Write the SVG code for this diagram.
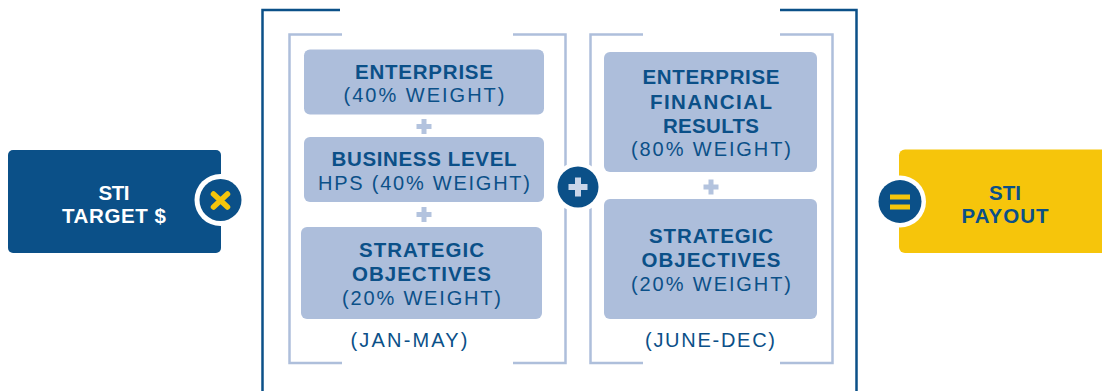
<svg xmlns="http://www.w3.org/2000/svg" width="1102" height="391" viewBox="0 0 1102 391">
  <style>
    .bold { font-family: "Liberation Sans", Arial, sans-serif; font-weight: bold; font-size: 20.5px; fill: #0b5088; text-anchor: middle; }
    .reg { font-family: "Liberation Sans", Arial, sans-serif; font-size: 20px; fill: #0b5088; text-anchor: middle; }
    .wht { fill: #ffffff; }
    .card { fill: #adbedb; }
    .outer { fill: none; stroke: #0b5088; stroke-width: 2.5; }
    .inner { fill: none; stroke: #aebfdb; stroke-width: 2.5; }
    .plus { fill: #b3c3de; }
  </style>
  <rect width="1102" height="391" fill="#ffffff"/>

  <!-- bracket frames -->
  <g id="connectors">
    <path class="outer" d="M340 10 H262.5 V391"/>
    <path class="outer" d="M780 10 H856.5 V391"/>
    <path class="inner" d="M342 34.5 H289.5 V363 H342"/>
    <path class="inner" d="M513 34.5 H565.5 V363 H513"/>
    <path class="inner" d="M643 34.5 H590.5 V363 H643"/>
    <path class="inner" d="M780 34.5 H832.5 V363 H780"/>
    <!-- small plus signs between cards -->
    <path class="plus" d="M421.5 119 h5 v5 h5 v5 h-5 v5 h-5 v-5 h-5 v-5 h5 z"/>
    <path class="plus" d="M421.5 207 h5 v5 h5 v5 h-5 v5 h-5 v-5 h-5 v-5 h5 z"/>
    <path class="plus" d="M708.5 179.5 h5 v5 h5 v5 h-5 v5 h-5 v-5 h-5 v-5 h5 z"/>
  </g>

  <g id="sti-target">
    <rect x="8" y="150" width="213" height="103" rx="5" fill="#0b5088"/>
    <text class="bold wht" x="114" y="199.5" textLength="31">STI</text>
    <text class="bold wht" x="114" y="222.5" textLength="104">TARGET $</text>
  </g>

  <g id="enterprise-h1">
    <rect class="card" x="304" y="49.5" width="240" height="65" rx="6"/>
    <text class="bold" x="424" y="79" textLength="138">ENTERPRISE</text>
    <text class="reg" x="424" y="102" textLength="161">(40% WEIGHT)</text>
  </g>

  <g id="business-level">
    <rect class="card" x="304" y="137" width="240" height="65" rx="6"/>
    <text class="bold" x="424" y="166" textLength="185">BUSINESS LEVEL</text>
    <text class="reg" x="424" y="190" textLength="212">HPS (40% WEIGHT)</text>
  </g>

  <g id="strategic-h1">
    <rect class="card" x="301" y="227" width="241" height="92" rx="6"/>
    <text class="bold" x="421.5" y="257" textLength="125">STRATEGIC</text>
    <text class="bold" x="421.5" y="281" textLength="139">OBJECTIVES</text>
    <text class="reg" x="421.5" y="304.5" textLength="159">(20% WEIGHT)</text>
  </g>

  <g id="label-jan-may">
    <text class="reg" x="409" y="346.5" textLength="117">(JAN-MAY)</text>
  </g>

  <g id="enterprise-h2">
    <rect class="card" x="604" y="52" width="213" height="120" rx="6"/>
    <text class="bold" x="711" y="84" textLength="137">ENTERPRISE</text>
    <text class="bold" x="711" y="108.5" textLength="122">FINANCIAL</text>
    <text class="bold" x="711" y="132.5" textLength="96">RESULTS</text>
    <text class="reg" x="711" y="156" textLength="160">(80% WEIGHT)</text>
  </g>

  <g id="strategic-h2">
    <rect class="card" x="604" y="199" width="213" height="120" rx="6"/>
    <text class="bold" x="711" y="243" textLength="124">STRATEGIC</text>
    <text class="bold" x="711" y="267" textLength="139">OBJECTIVES</text>
    <text class="reg" x="711" y="290.5" textLength="160">(20% WEIGHT)</text>
  </g>

  <g id="label-june-dec">
    <text class="reg" x="710" y="346.5" textLength="130">(JUNE-DEC)</text>
  </g>

  <g id="sti-payout">
    <path d="M1102 149.5 H905 a6 6 0 0 0 -6 6 V247 a6 6 0 0 0 6 6 H1102 z" fill="#f6c50b"/>
    <text class="bold" x="1005" y="199.5" textLength="32">STI</text>
    <text class="bold" x="1005" y="222.5" textLength="87">PAYOUT</text>
  </g>

  <!-- operator badges -->
  <g id="op-multiply">
    <circle cx="220.5" cy="200" r="26" fill="#ffffff"/>
    <circle cx="220.5" cy="200" r="21" fill="#0b5088"/>
    <path d="M213.5 194 L227.5 207 M227.5 194 L213.5 207" stroke="#f6c50b" stroke-width="5.5" stroke-linecap="round"/>
  </g>

  <g id="op-plus">
    <circle cx="578" cy="187" r="25" fill="#ffffff"/>
    <circle cx="578" cy="187" r="20.5" fill="#0b5088"/>
    <path d="M575 177.5 h6 v6.5 h6.5 v6 h-6.5 v6.5 h-6 v-6.5 h-6.5 v-6 h6.5 z" fill="#c9d5e9"/>
  </g>

  <g id="op-equals">
    <circle cx="900" cy="201.5" r="26" fill="#ffffff"/>
    <circle cx="900" cy="201.5" r="21.5" fill="#0b5088"/>
    <rect x="890" y="194.5" width="20" height="5" fill="#f6c50b"/>
    <rect x="890" y="204.5" width="20" height="5" fill="#f6c50b"/>
  </g>
</svg>
